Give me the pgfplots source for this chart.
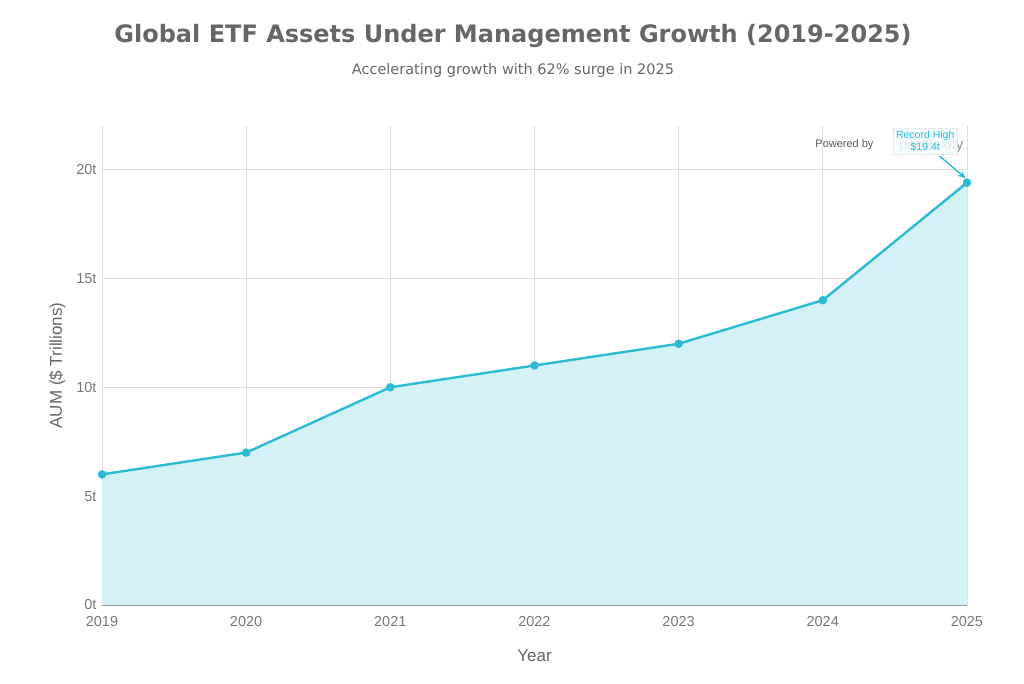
\documentclass[border=0pt]{standalone}
\usepackage{pgfplots}
\pgfplotsset{compat=1.18}
\usepackage{fontspec}
\setmainfont{Liberation Sans}
\newfontfamily\titlefont{DejaVu Sans}
\usetikzlibrary{arrows.meta}
\definecolor{linec}{HTML}{2BBCD4}
\definecolor{fillc}{HTML}{D4F1F5}
\definecolor{txtc}{HTML}{666666}
\definecolor{tickc}{HTML}{777777}
\definecolor{gridc}{HTML}{DDDDDD}

\begin{document}
\begin{tikzpicture}
\begin{axis}[
  at={(0,0)}, anchor=south west,
  scale only axis,
  width=865pt, height=479pt,
  xmin=2019, xmax=2025,
  ymin=0, ymax=22,
  xtick={2019,...,2025},
  xticklabels={2019,2020,2021,2022,2023,2024,2025},
  ytick={0,5,10,15,20},
  yticklabels={0t,5t,10t,15t,20t},
  axis x line*=bottom,
  axis y line*=left,
  x axis line style={draw=black!45, line width=1.8pt, -},
  y axis line style={draw=none},
  xmajorgrids, ymajorgrids,
  grid style={gridc, line width=0.6pt},
  tick style={draw=gridc, line width=0.6pt},
  major tick length=5pt,
  tick label style={font=\fontsize{14.5}{16}\selectfont, text=tickc},
  xticklabel style={yshift=-8pt},
  yticklabel style={xshift=-2pt},
  xlabel={Year}, ylabel={AUM (\$ Trillions)},
  label style={font=\fontsize{17}{20}\selectfont, text=txtc},
  xlabel style={yshift=-16pt},
  ylabel style={yshift=4pt},
  clip=false,
]
\addplot[draw=none, fill=fillc] coordinates {
  (2019,6)(2020,7)(2021,10)(2022,11)(2023,12)(2024,14)(2025,19.4)
} \closedcycle;
\addplot[linec, line width=2.4pt, mark=*, mark size=3pt, mark options={fill=linec, draw=linec}] coordinates {
  (2019,6)(2020,7)(2021,10)(2022,11)(2023,12)(2024,14)(2025,19.4)
};
% watermark
\node[font=\fontsize{11}{12}\selectfont, text=black!65] at (axis cs:2024.15,21.15) {Powered by};
\node[font=\fontsize{15}{16}\selectfont, text=black!45, anchor=east] at (axis cs:2025,21.12) {perplexity};
% annotation
\draw[linec, line width=1.4pt, -{Stealth[length=8pt,width=7pt]}] (axis cs:2024.81,20.62) -- (axis cs:2024.99,19.6);
\node[fill=linec!6, fill opacity=0.85, text opacity=1, text=linec, align=center,
  draw=black!12, densely dotted, font=\fontsize{10.5}{12.5}\selectfont, inner sep=3pt] at (axis cs:2024.71,21.3) {Record High\\\$19.4t};
\end{axis}
\node[font=\titlefont\bfseries\fontsize{24}{28}\selectfont, text=txtc] at (411pt,569pt) {Global ETF Assets Under Management Growth (2019-2025)};
\node[font=\titlefont\fontsize{14.5}{17}\selectfont, text=txtc] at (411pt,534pt) {Accelerating growth with 62\% surge in 2025};
\useasboundingbox (-102pt,-78pt) rectangle (922pt,605pt);
\end{tikzpicture}
\end{document}
